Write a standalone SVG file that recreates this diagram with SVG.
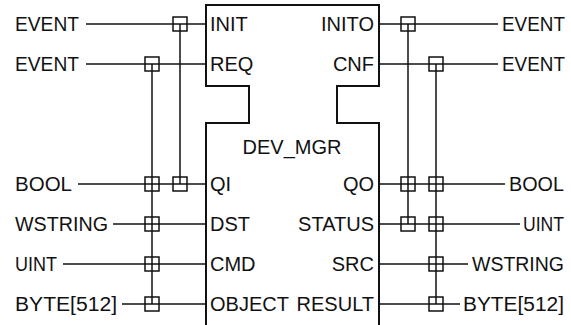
<svg xmlns="http://www.w3.org/2000/svg" width="571" height="325" viewBox="0 0 571 325">
<style>
text{font-family:"Liberation Sans",Arial,sans-serif;font-size:20px;fill:#111}
.ln{stroke:#111;stroke-width:1.5;fill:none}
.blk{stroke:#111;stroke-width:2;fill:#fff}
.bx{stroke:#111;stroke-width:1.5;fill:none}
.e{text-anchor:end}
</style>
<rect width="571" height="325" fill="#fff"/>
<g id="connectors">
<line class="ln" x1="86" y1="24" x2="206" y2="24"/>
<line class="ln" x1="86" y1="64" x2="206" y2="64"/>
<line class="ln" x1="78" y1="184" x2="206" y2="184"/>
<line class="ln" x1="113" y1="224" x2="206" y2="224"/>
<line class="ln" x1="63" y1="264" x2="206" y2="264"/>
<line class="ln" x1="122" y1="304" x2="206" y2="304"/>
<line class="ln" x1="180" y1="24" x2="180" y2="184"/>
<line class="ln" x1="152" y1="64" x2="152" y2="304"/>
<rect class="bx" x="173" y="17" width="14" height="14"/>
<rect class="bx" x="145" y="57" width="14" height="14"/>
<rect class="bx" x="145" y="177" width="14" height="14"/>
<rect class="bx" x="173" y="177" width="14" height="14"/>
<rect class="bx" x="145" y="217" width="14" height="14"/>
<rect class="bx" x="145" y="257" width="14" height="14"/>
<rect class="bx" x="145" y="297" width="14" height="14"/>
<line class="ln" x1="379" y1="24" x2="498" y2="24"/>
<line class="ln" x1="379" y1="64" x2="498" y2="64"/>
<line class="ln" x1="379" y1="184" x2="505" y2="184"/>
<line class="ln" x1="379" y1="224" x2="520" y2="224"/>
<line class="ln" x1="379" y1="264" x2="468" y2="264"/>
<line class="ln" x1="379" y1="304" x2="460" y2="304"/>
<line class="ln" x1="408" y1="24" x2="408" y2="224"/>
<line class="ln" x1="436" y1="64" x2="436" y2="304"/>
<rect class="bx" x="401" y="17" width="14" height="14"/>
<rect class="bx" x="429" y="57" width="14" height="14"/>
<rect class="bx" x="401" y="177" width="14" height="14"/>
<rect class="bx" x="429" y="177" width="14" height="14"/>
<rect class="bx" x="401" y="217" width="14" height="14"/>
<rect class="bx" x="429" y="217" width="14" height="14"/>
<rect class="bx" x="429" y="257" width="14" height="14"/>
<rect class="bx" x="429" y="297" width="14" height="14"/>
</g>
<g id="DEV_MGR">
<path class="blk" d="M206 330 V123 H249 V86 H206 V5 H379 V86 H337 V123 H379 V330"/>
<text x="210" y="31">INIT</text>
<text x="210" y="71">REQ</text>
<text x="210" y="191">QI</text>
<text x="210" y="231">DST</text>
<text x="210" y="271">CMD</text>
<text x="210" y="311">OBJECT</text>
<text class="e" x="374" y="31">INITO</text>
<text class="e" x="374" y="71">CNF</text>
<text class="e" x="374" y="191">QO</text>
<text class="e" x="374" y="231">STATUS</text>
<text class="e" x="374" y="271">SRC</text>
<text class="e" x="374" y="311">RESULT</text>
<text x="292" y="154" text-anchor="middle">DEV_MGR</text>
</g>
<g id="in-types">
<text x="15" y="31" textLength="64" lengthAdjust="spacingAndGlyphs">EVENT</text>
<text x="15" y="71" textLength="64" lengthAdjust="spacingAndGlyphs">EVENT</text>
<text x="15" y="191" textLength="57" lengthAdjust="spacingAndGlyphs">BOOL</text>
<text x="15" y="231" textLength="93" lengthAdjust="spacingAndGlyphs">WSTRING</text>
<text x="15" y="271" textLength="42" lengthAdjust="spacingAndGlyphs">UINT</text>
<text x="15" y="311" textLength="102" lengthAdjust="spacingAndGlyphs">BYTE[512]</text>
</g>
<g id="out-types">
<text x="502" y="31" textLength="63" lengthAdjust="spacingAndGlyphs">EVENT</text>
<text x="502" y="71" textLength="63" lengthAdjust="spacingAndGlyphs">EVENT</text>
<text x="509" y="191" textLength="55" lengthAdjust="spacingAndGlyphs">BOOL</text>
<text x="523" y="231" textLength="41" lengthAdjust="spacingAndGlyphs">UINT</text>
<text x="472" y="271" textLength="92" lengthAdjust="spacingAndGlyphs">WSTRING</text>
<text x="463" y="311" textLength="101" lengthAdjust="spacingAndGlyphs">BYTE[512]</text>
</g>
</svg>
